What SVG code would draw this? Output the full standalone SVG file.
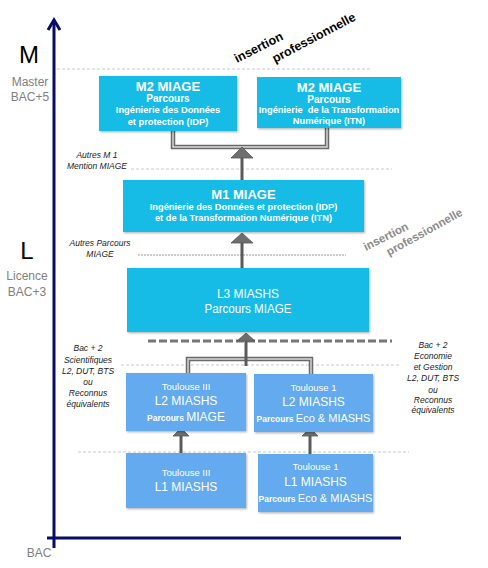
<svg xmlns="http://www.w3.org/2000/svg" width="488" height="568" viewBox="0 0 488 568">
<defs>
<style>
text{font-family:"Liberation Sans",Arial,sans-serif;}
.c{text-anchor:middle}
.w{fill:#ffffff}
.b{font-weight:bold}
.lvl{fill:#000000;font-size:24px}
.grey{fill:#808080;font-size:12px}
.it{font-style:italic;font-size:8.5px;fill:#222222;text-anchor:middle}
.cyan{fill:#12bce6}
.blue{fill:#63aaee}
.sep{stroke:#c9c9c9;stroke-width:1;stroke-dasharray:3 2;fill:none}
.bar{fill:none;stroke:#6a6a6a;stroke-width:4.5}
.barin{fill:none;stroke:#dadada;stroke-width:1.4}
.shaft{stroke:#5a5a5a;stroke-width:3;fill:none}
.head{fill:#6e6e6e;stroke:#555555;stroke-width:0.8}
.ins{font-weight:bold}
</style>
<filter id="sh" x="-5%" y="-5%" width="115%" height="120%">
<feDropShadow dx="1" dy="1.2" stdDeviation="0.8" flood-color="#000" flood-opacity="0.3"/>
</filter>
</defs>
<rect width="488" height="568" fill="#ffffff"/>

<g id="separators">
<line class="sep" x1="57" y1="69" x2="372" y2="69"/>
<line class="sep" x1="131" y1="169" x2="392" y2="169"/>
<line x1="138" y1="255" x2="346" y2="255" stroke="#9a9a9a" stroke-width="1.2" stroke-dasharray="2 1"/>
<line class="sep" x1="121" y1="365" x2="401" y2="365"/>
<line class="sep" x1="78" y1="452" x2="409" y2="452"/>
<line x1="148" y1="341" x2="392" y2="341" stroke="#777777" stroke-width="3" stroke-dasharray="8 3"/>
</g>

<g id="axis">
<line x1="54" y1="20" x2="54" y2="548" stroke="#0b0b6b" stroke-width="3"/>
<polyline points="48,30 54,20 60,30" fill="none" stroke="#0b0b6b" stroke-width="3"/>
<line x1="47" y1="538" x2="401" y2="538" stroke="#0b0b6b" stroke-width="3"/>
<text class="lvl c" x="29" y="63">M</text>
<text class="grey c" x="30" y="86">Master</text>
<text class="grey c" x="30" y="101">BAC+5</text>
<text class="lvl c" x="27" y="259">L</text>
<text class="grey c" x="27" y="280">Licence</text>
<text class="grey c" x="27" y="296">BAC+3</text>
<text class="grey c" x="39" y="557">BAC</text>
</g>

<g id="insertion-master" transform="translate(237,63) rotate(-27)">
<text class="ins" x="0" y="0" font-size="12.5" fill="#000">insertion</text>
</g>
<g id="insertion-master-2" transform="translate(275,63) rotate(-28)">
<text class="ins" x="0" y="0" font-size="12.5" fill="#000">professionnelle</text>
</g>
<g id="insertion-licence" transform="translate(366,251) rotate(-27)">
<text class="ins" x="0" y="0" font-size="11.5" fill="#8a8a8a">insertion</text>
</g>
<g id="insertion-licence-2" transform="translate(389,256) rotate(-29)">
<text class="ins" x="0" y="0" font-size="11.5" fill="#8a8a8a">professionnelle</text>
</g>

<g id="side-labels">
<text class="it" x="97" y="158">Autres M 1</text>
<text class="it" x="97" y="169">Mention MIAGE</text>
<text class="it" x="100" y="246">Autres Parcours</text>
<text class="it" x="100" y="257">MIAGE</text>
<text class="it" x="88" y="351">Bac + 2</text>
<text class="it" x="88" y="363">Scientifiques</text>
<text class="it" x="88" y="374">L2, DUT, BTS</text>
<text class="it" x="88" y="385">ou</text>
<text class="it" x="88" y="396">Reconnus</text>
<text class="it" x="88" y="407">équivalents</text>
<text class="it" x="433" y="348">Bac + 2</text>
<text class="it" x="433" y="359">Economie</text>
<text class="it" x="433" y="370">et Gestion</text>
<text class="it" x="433" y="381">L2, DUT, BTS</text>
<text class="it" x="433" y="393">ou</text>
<text class="it" x="433" y="403">Reconnus</text>
<text class="it" x="433" y="413">équivalents</text>
</g>

<g id="connectors">
<path class="bar" d="M173,131 V147 H327 V128"/>
<path class="barin" d="M173,131 V147 H327 V128"/>
<line class="shaft" x1="242" y1="158" x2="242" y2="180"/>
<polygon class="head" points="242,147 253,158 231,158"/>
<line class="shaft" x1="242" y1="242" x2="242" y2="268"/>
<polygon class="head" points="242,233 253,243 231,243"/>
<path class="bar" d="M188,373 V359 H311 V374"/>
<path class="barin" d="M188,373 V359 H311 V374"/>
<line class="shaft" x1="246" y1="340" x2="246" y2="366"/>
<polygon class="head" points="246,333 255,341 237,341"/>
<line class="shaft" x1="181" y1="436" x2="181" y2="453"/>
<polygon class="head" points="181,428 189,436 173,436"/>
<line class="shaft" x1="310" y1="436" x2="310" y2="454"/>
<polygon class="head" points="310,428 318,436 302,436"/>
</g>

<g id="m2-idp">
<rect class="cyan" x="99" y="76" width="138" height="55" filter="url(#sh)"/>
<text class="c w b" x="168" y="90.5" font-size="13">M2 MIAGE</text>
<text class="c w b" x="168" y="102" font-size="10">Parcours</text>
<text class="c w b" x="168" y="113.3" font-size="9.3">Ingénierie des Données</text>
<text class="c w b" x="168" y="125.3" font-size="9.3">et protection (IDP)</text>
</g>

<g id="m2-itn">
<rect class="cyan" x="257" y="77" width="144" height="51" filter="url(#sh)"/>
<text class="c w b" x="329" y="91.5" font-size="13">M2 MIAGE</text>
<text class="c w b" x="329" y="102.5" font-size="10">Parcours</text>
<text class="c w b" x="329" y="113.3" font-size="9.3" xml:space="preserve">Ingénierie  de la Transformation</text>
<text class="c w b" x="329" y="124.3" font-size="9.3">Numérique (ITN)</text>
</g>

<g id="m1">
<rect class="cyan" x="123" y="180" width="241" height="52" filter="url(#sh)"/>
<text class="c w b" x="243.5" y="198.5" font-size="13">M1 MIAGE</text>
<text class="c w b" x="243.5" y="210.3" font-size="9.3">Ingénierie des Données et protection (IDP)</text>
<text class="c w b" x="243.5" y="221.3" font-size="9.3">et de la Transformation Numérique (ITN)</text>
</g>

<g id="l3">
<rect class="cyan" x="127" y="268" width="242" height="64" filter="url(#sh)"/>
<text class="c w" x="248" y="297.5" font-size="13" textLength="62" lengthAdjust="spacingAndGlyphs">L3 MIASHS</text>
<text class="c w" x="248" y="312.5" font-size="13" textLength="87" lengthAdjust="spacingAndGlyphs">Parcours MIAGE</text>
</g>

<g id="l2-t3">
<rect class="blue" x="126" y="373" width="120" height="58" filter="url(#sh)"/>
<text class="c w" x="186" y="390.3" font-size="9.5">Toulouse III</text>
<text class="c w" x="186" y="405.3" font-size="12">L2 MIASHS</text>
<text class="c w" x="186" y="421"><tspan font-size="8.5" font-weight="bold">Parcours </tspan><tspan font-size="12">MIAGE</tspan></text>
</g>

<g id="l2-t1">
<rect class="blue" x="254" y="374" width="119" height="58" filter="url(#sh)"/>
<text class="c w" x="313.5" y="391.3" font-size="9.5">Toulouse 1</text>
<text class="c w" x="313.5" y="406.3" font-size="12">L2 MIASHS</text>
<text class="c w" x="313.5" y="422"><tspan font-size="8.5" font-weight="bold">Parcours </tspan><tspan font-size="11">Eco &amp; MIASHS</tspan></text>
</g>

<g id="l1-t3">
<rect class="blue" x="126" y="453" width="120" height="55" filter="url(#sh)"/>
<text class="c w" x="186" y="476.3" font-size="9.5">Toulouse III</text>
<text class="c w" x="186" y="491.3" font-size="12">L1 MIASHS</text>
</g>

<g id="l1-t1">
<rect class="blue" x="258" y="454" width="115" height="58" filter="url(#sh)"/>
<text class="c w" x="315.5" y="470.3" font-size="9.5">Toulouse 1</text>
<text class="c w" x="315.5" y="486.3" font-size="12">L1 MIASHS</text>
<text class="c w" x="315.5" y="502"><tspan font-size="8.5" font-weight="bold">Parcours </tspan><tspan font-size="11">Eco &amp; MIASHS</tspan></text>
</g>
</svg>
